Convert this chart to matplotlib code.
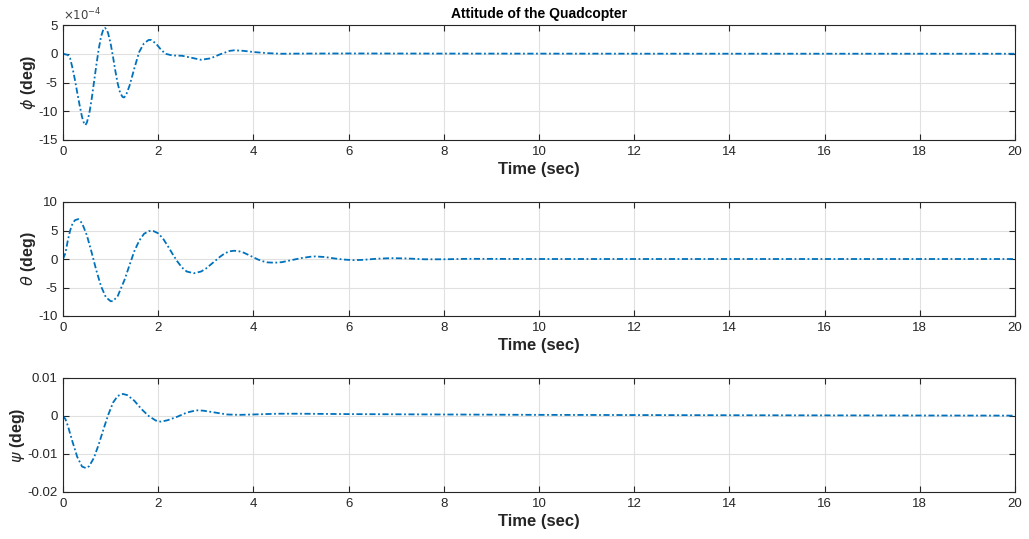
import numpy as np
import matplotlib
matplotlib.use("Agg")
import matplotlib.pyplot as plt
from matplotlib.ticker import FuncFormatter

plt.rcParams['font.family'] = ['Liberation Sans', 'DejaVu Sans']
plt.rcParams['axes.unicode_minus'] = False
plt.rcParams['mathtext.fontset'] = 'dejavusans'

# ---- data ----
t_phi = [0, 0.1, 0.15, 0.2, 0.25, 0.3, 0.35, 0.4, 0.45, 0.47, 0.5, 0.55, 0.6, 0.65, 0.7, 0.75,
         0.8, 0.85, 0.88, 0.92, 0.95, 1.0, 1.05, 1.1, 1.15, 1.2, 1.25, 1.28, 1.32, 1.4, 1.5,
         1.6, 1.7, 1.8, 1.85, 1.95, 2.05, 2.15, 2.3, 2.5, 2.7, 2.9, 3.1, 3.3, 3.5, 3.6, 3.8,
         4.0, 4.3, 4.6, 5.0, 6.0, 8.0, 12.0, 20.0]
phi = [0, -0.2, -0.8, -2.5, -4.5, -6.8, -9.0, -11.0, -12.3, -12.4, -12.0, -10.5, -8.0, -5.0,
       -2.0, 0.8, 3.0, 4.3, 4.5, 4.2, 3.5, 1.8, -0.5, -3.0, -5.2, -6.8, -7.5, -7.6, -7.3, -5.5,
       -2.5, 0.3, 1.8, 2.4, 2.4, 1.8, 0.8, 0.0, -0.3, -0.35, -0.7, -1.05, -0.8, -0.1, 0.5, 0.6,
       0.5, 0.3, 0.1, 0.0, 0.03, 0.05, 0.03, 0.01, 0.0]
phi_scale = 1e-4

t_theta = [0, 0.05, 0.1, 0.15, 0.2, 0.25, 0.32, 0.4, 0.5, 0.6, 0.7, 0.8, 0.9, 1.0, 1.05, 1.15,
           1.3, 1.4, 1.5, 1.6, 1.7, 1.8, 1.9, 2.0, 2.1, 2.2, 2.3, 2.4, 2.5, 2.6, 2.75, 2.9, 3.0,
           3.1, 3.2, 3.3, 3.4, 3.5, 3.6, 3.7, 3.8, 3.9, 4.0, 4.1, 4.2, 4.3, 4.45, 4.6, 4.8, 5.0,
           5.2, 5.3, 5.5, 5.7, 5.9, 6.1, 6.3, 6.6, 6.9, 7.2, 7.6, 8.0, 8.5, 9.0, 10.0, 20.0]
theta = [0, 1.0, 3.2, 5.0, 6.2, 6.8, 7.0, 6.3, 4.2, 1.2, -2.0, -4.8, -6.7, -7.4, -7.4, -6.5,
         -3.5, -1.0, 1.4, 3.2, 4.4, 4.9, 4.9, 4.5, 3.6, 2.3, 0.9, -0.4, -1.5, -2.2, -2.5, -2.2,
         -1.7, -1.0, -0.3, 0.4, 1.0, 1.35, 1.45, 1.35, 1.1, 0.7, 0.3, -0.1, -0.4, -0.6, -0.65,
         -0.55, -0.2, 0.15, 0.4, 0.45, 0.35, 0.1, -0.1, -0.2, -0.15, 0.05, 0.15, 0.1, -0.05,
         -0.05, 0.03, 0.02, 0.0, 0.0]

t_psi = [0, 0.05, 0.1, 0.2, 0.3, 0.4, 0.48, 0.55, 0.65, 0.75, 0.85, 0.95, 1.05, 1.15, 1.26,
         1.35, 1.5, 1.65, 1.8, 1.95, 2.06, 2.2, 2.4, 2.6, 2.8, 2.95, 3.2, 3.45, 3.7, 4.0, 4.5,
         5.0, 6.0, 8.0, 10.0, 14.0, 20.0]
psi = [0, -0.0008, -0.0025, -0.0068, -0.0108, -0.0133, -0.0137, -0.0132, -0.011, -0.0075,
       -0.0035, 0.0003, 0.0035, 0.0053, 0.0058, 0.0055, 0.004, 0.0018, 0.0, -0.0012, -0.0015,
       -0.0011, -0.0002, 0.0009, 0.0015, 0.0014, 0.0009, 0.0004, 0.0003, 0.0004, 0.0006,
       0.0006, 0.0005, 0.0004, 0.0003, 0.0002, 0.0001]

xticks = [0, 2, 4, 6, 8, 10, 12, 14, 16, 18, 20]
ylims = [(-15e-4, 5e-4), (-10, 10), (-0.02, 0.01)]
yticks = [[-15e-4, -10e-4, -5e-4, 0, 5e-4], [-10, -5, 0, 5, 10], [-0.02, -0.01, 0, 0.01]]
ylabels = [r'$\phi$ (deg)', r'$\theta$ (deg)', r'$\psi$ (deg)']

W, H = 1029, 539
fig = plt.figure(figsize=(W / 100, H / 100), dpi=100)
boxes = [(25, 140), (202, 316), (378, 492)]
x0, x1 = 63, 1015
line_color = '#0072BD'
ax_color = '#262626'

series = [(t_phi, np.array(phi) * phi_scale), (t_theta, np.array(theta)), (t_psi, np.array(psi))]

for i, (top, bot) in enumerate(boxes):
    ax = fig.add_axes([x0 / W, 1 - bot / H, (x1 - x0) / W, (bot - top) / H])
    t, y = series[i]
    ln, = ax.plot(t, y, color=line_color, linewidth=1.3)
    ln.set_dashes((3.4, 1.4, 1.0, 1.4))
    ax.set_xlim(0, 20)
    ax.set_ylim(*ylims[i])
    ax.set_xticks(xticks)
    ax.set_yticks(yticks[i])
    if i == 0:
        ax.yaxis.set_major_formatter(FuncFormatter(lambda v, p: '%g' % round(v / phi_scale, 6)))
        ax.text(0.0, 1.015, r'$\times10^{-4}$', transform=ax.transAxes, fontsize=8.5,
                color='#404040', ha='left', va='bottom')
    else:
        ax.set_yticklabels([('%g' % v) for v in yticks[i]])
    ax.grid(True, color='#e0e0e0', linewidth=0.8)
    ax.set_axisbelow(True)
    ax.tick_params(direction='in', top=True, right=True, length=4, width=0.8,
                   labelsize=9.5, colors=ax_color, pad=4)
    for s in ax.spines.values():
        s.set_color(ax_color)
        s.set_linewidth(0.8)
    ax.set_xlabel('Time (sec)', fontsize=12, fontweight='bold', color=ax_color, labelpad=3)
    ax.set_ylabel(ylabels[i], fontsize=11.5, fontweight='bold', color=ax_color, labelpad=0)
    if i == 0:
        ax.set_title('Attitude of the Quadcopter', fontsize=10, fontweight='bold',
                     color='black', pad=5)

fig.savefig('out.png', dpi=100, facecolor='white')
